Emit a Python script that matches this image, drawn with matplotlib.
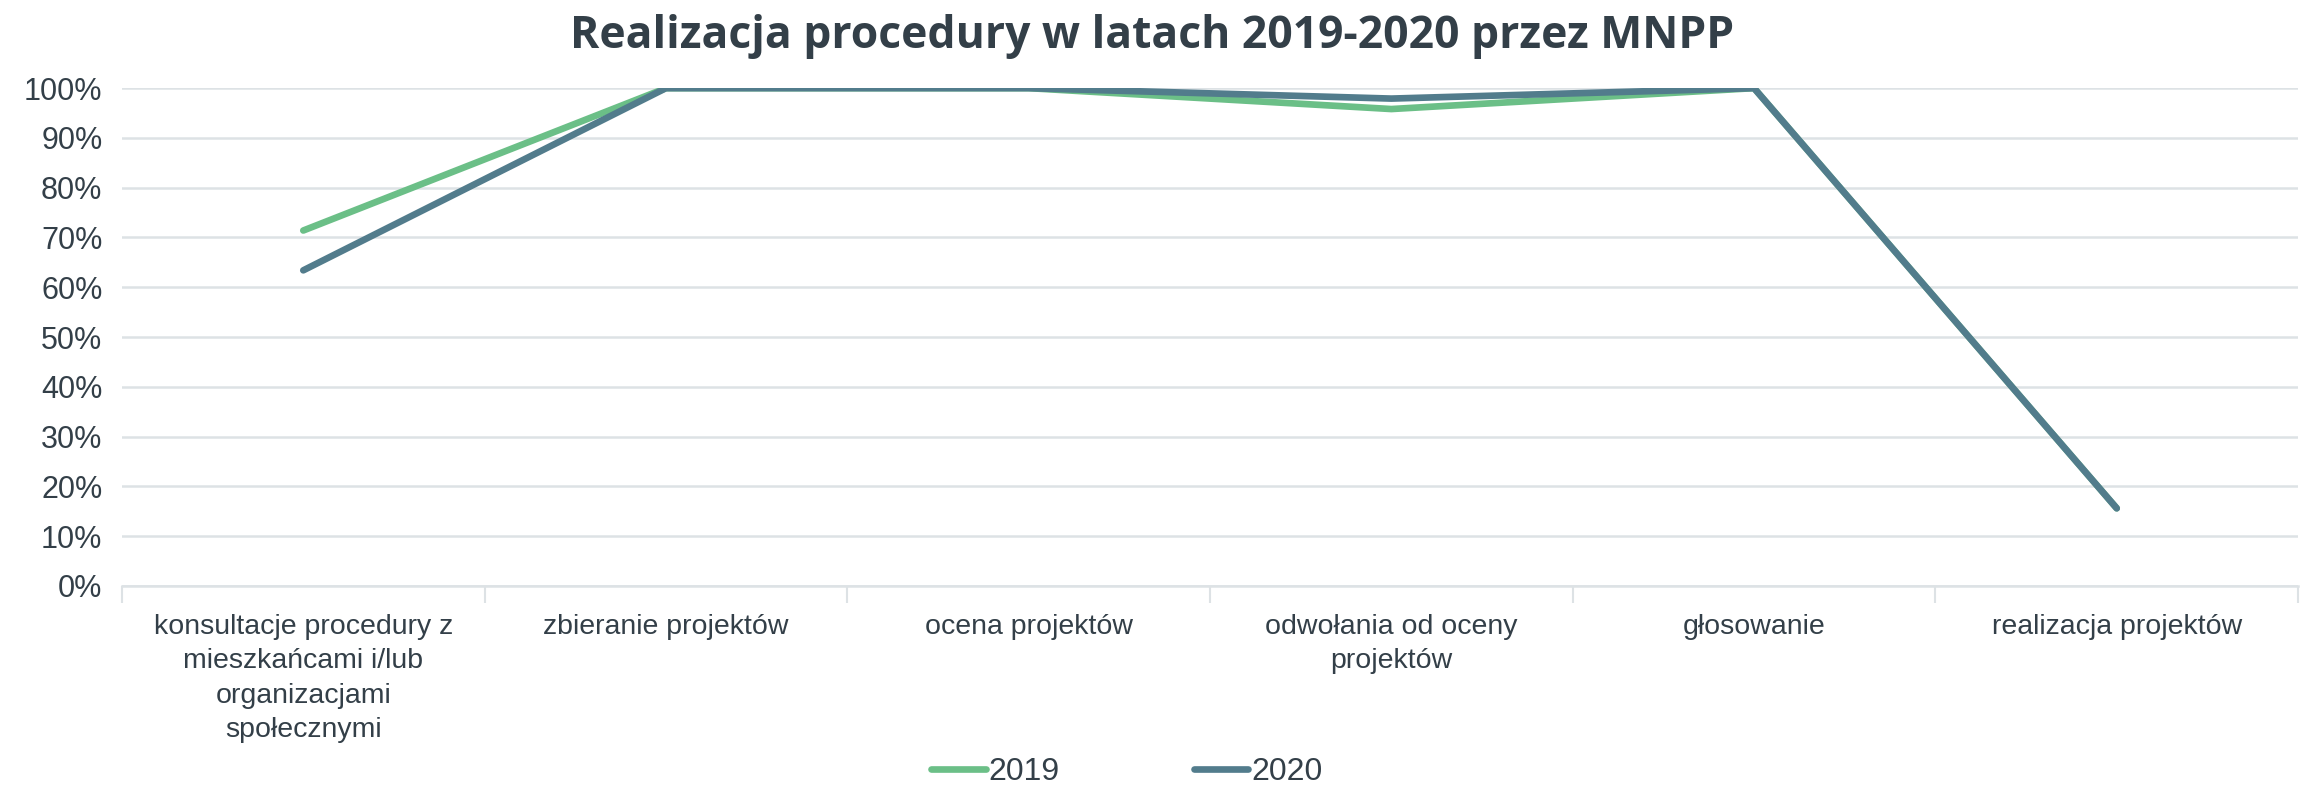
import matplotlib
matplotlib.use("Agg")
import matplotlib.pyplot as plt
import numpy as np
from matplotlib.ticker import PercentFormatter, FixedLocator

categories = ["konsultacje procedury z\nmieszkańcami i/lub\norganizacjami\nspołecznymi",
              "zbieranie projektów",
              "ocena projektów",
              "odwołania od oceny\nprojektów",
              "głosowanie",
              "realizacja projektów"]
values_2019 = [0.714, 1.0, 1.0, 0.958, 1.0, 0.156]
values_2020 = [0.634, 1.0, 1.0, 0.979, 1.0, 0.156]
yticks = np.arange(0, 1.01, 0.1)

TEXT = "#333F48"
GRID = "#DDE2E5"
C2019 = "#6BBF87"
C2020 = "#527C8C"

plt.rcParams['font.family'] = ['Liberation Sans', 'DejaVu Sans']

fig = plt.figure(figsize=(23.05, 7.94), dpi=100)
ax = fig.add_axes([0.0529, 0.262, 0.9441, 0.627])

x = np.arange(len(categories))
ax.plot(x, values_2019, color=C2019, lw=4.8, solid_capstyle='round', label="2019")
ax.plot(x, values_2020, color=C2020, lw=4.8, solid_capstyle='round', label="2020")

ax.set_xlim(-0.5, len(categories) - 0.5)
ax.set_ylim(0, 1.0)
ax.set_yticks(yticks)
ax.yaxis.set_major_formatter(PercentFormatter(1.0, decimals=0))
ax.grid(axis='y', color=GRID, lw=1.8)
ax.set_axisbelow(True)

ax.set_xticks(x)
ax.set_xticklabels(categories)
ax.tick_params(axis='x', length=0, pad=20, labelsize=20.5, labelcolor=TEXT)
ax.tick_params(axis='y', length=0, pad=14, labelsize=22, labelcolor=TEXT)
ax.xaxis.set_minor_locator(FixedLocator(np.arange(-0.5, len(categories), 1.0)))
ax.tick_params(axis='x', which='minor', length=12, width=1.5, color=GRID)
for lbl in ax.get_xticklabels():
    lbl.set_linespacing(1.42)

for side in ['top', 'left', 'right']:
    ax.spines[side].set_visible(False)
ax.spines['bottom'].set_color(GRID)
ax.spines['bottom'].set_linewidth(1.8)

fig.suptitle("Realizacja procedury w latach 2019-2020 przez MNPP",
             fontsize=32, fontweight='bold', color=TEXT,
             family=['Open Sans', 'DejaVu Sans'], y=0.982)

leg = fig.legend(loc='center', bbox_to_anchor=(0.489, 0.028), ncol=2,
                 frameon=False, fontsize=23, handlelength=1.7,
                 handletextpad=0.1, columnspacing=4.2)
for t in leg.get_texts():
    t.set_color(TEXT)

fig.savefig("out.png", dpi=100)
